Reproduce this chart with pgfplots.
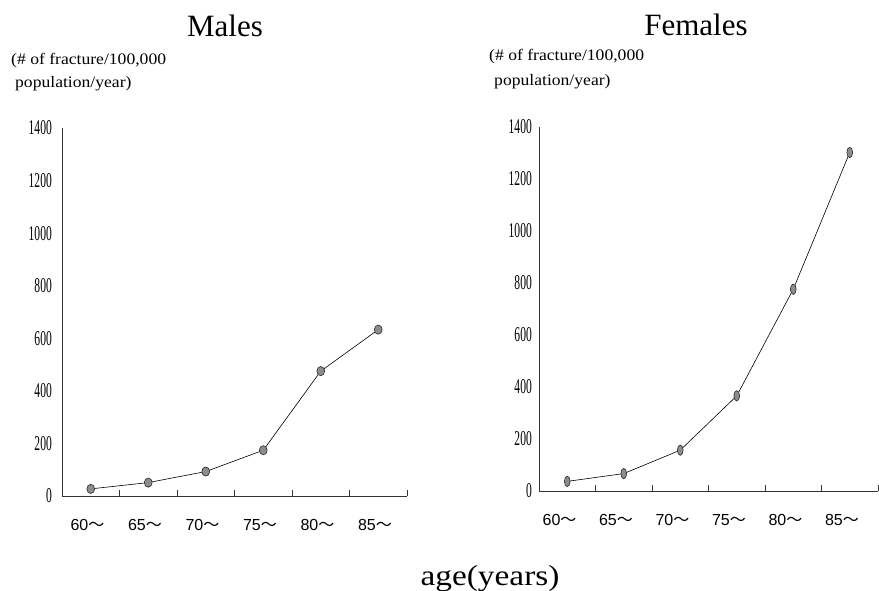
\documentclass[border=0pt]{standalone}
\usepackage{pgfplots}
\pgfplotsset{compat=1.18}
\usepackage{fontspec}
\setmainfont{Liberation Serif}
\newfontfamily\condfont[FakeStretch=0.55]{Liberation Serif}
\newfontfamily\lsans{Liberation Sans}
\newfontfamily\cjk{Noto Sans CJK JP}
\newcommand{\wv}{{\cjk\fontsize{16}{16}\selectfont ～}}
\pgfplotsset{
  fracstyle/.style={
    scale only axis,
    axis x line=bottom, axis y line=left,
    axis line style={-, draw=black!80, line width=0.7pt},
    xmin=0, xmax=6, ymin=0, ymax=1400,
    xtick={1,...,6},
    xticklabels={60\wv,65\wv,70\wv,75\wv,80\wv,85\wv},
    ytick={0,200,...,1400},
    /pgf/number format/assume math mode=true,
    /pgf/number format/1000 sep={},
    tick align=inside,
    x tick style={draw=black!80, line width=0.6pt},
    y tick style={draw=none},
    major tick length=6pt,
    xticklabel style={font=\lsans\fontsize{16}{16}\selectfont, anchor=center, yshift=-29pt, inner sep=0pt},
    yticklabel style={font=\condfont\fontsize{21}{21}\selectfont, anchor=east, inner sep=0pt},
    clip=false,
  }
}
\begin{document}
\begin{tikzpicture}[x=1pt,y=1pt]
\path[use as bounding box] (0,0) rectangle (879,591);

% Males
\begin{axis}[fracstyle, at={(62pt,95pt)}, anchor=south west,
  width=345pt, height=368pt,
  xticklabel style={xshift=-32pt},
  yticklabel style={xshift=-10pt}]
\addplot[black, line width=0.6pt, mark=*, mark size=4.6pt,
  mark options={fill=black!45, draw=black!85, line width=0.6pt, xscale=0.85}]
  coordinates {(0.5,27) (1.5,51) (2.5,93) (3.5,174) (4.5,475) (5.5,633)};
\end{axis}

% Females
\begin{axis}[fracstyle, at={(539pt,100pt)}, anchor=south west,
  width=339pt, height=364pt,
  xticklabel style={xshift=-36pt},
  yticklabel style={xshift=-7pt}]
\addplot[black, line width=0.6pt, mark=*, mark size=5.2pt,
  mark options={fill=black!45, draw=black!85, line width=0.6pt, xscale=0.55}]
  coordinates {(0.5,37) (1.5,67) (2.5,157) (3.5,366) (4.5,776) (5.5,1302)};
\end{axis}

\node[font=\fontsize{31}{31}\selectfont] at (225,565) {Males};
\node[font=\fontsize{31}{31}\selectfont] at (696,566) {Females};
\node[anchor=west, inner sep=0pt, font=\fontsize{16}{16}\selectfont] at (11,530) {\scalebox{1.1}[1]{(\# of fracture/100,000}};
\node[anchor=west, inner sep=0pt, font=\fontsize{16}{16}\selectfont] at (15,507) {\scalebox{1.1}[1]{population/year)}};
\node[anchor=west, inner sep=0pt, font=\fontsize{16}{16}\selectfont] at (489,534) {\scalebox{1.1}[1]{(\# of fracture/100,000}};
\node[anchor=west, inner sep=0pt, font=\fontsize{16}{16}\selectfont] at (494,509) {\scalebox{1.1}[1]{population/year)}};
\node[font=\fontsize{29}{29}\selectfont] at (490,12) {\scalebox{1.15}[1]{age(years)}};
\end{tikzpicture}
\end{document}
